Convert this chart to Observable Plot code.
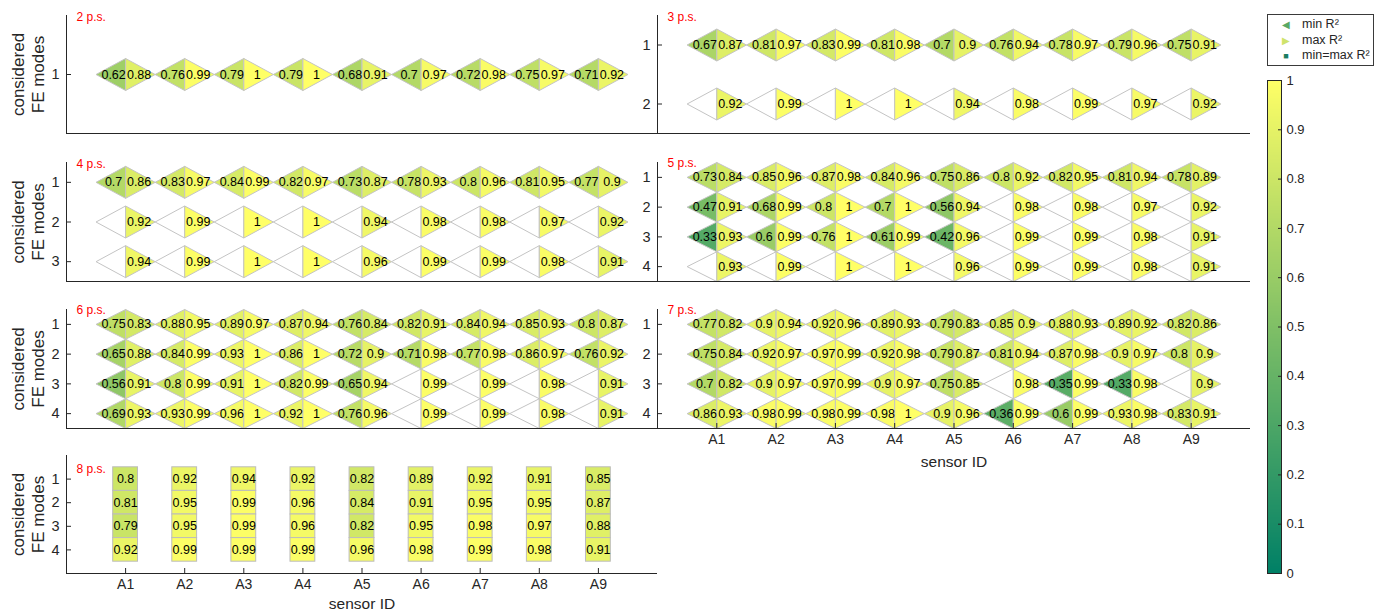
<!DOCTYPE html>
<html>
<head>
<meta charset="utf-8">
<script src="https://cdn.jsdelivr.net/npm/d3@7"></script>
<script src="https://cdn.jsdelivr.net/npm/@observablehq/plot@0.6"></script>
<style>
  body { margin: 0; background: #fff; font-family: "Liberation Sans", Arial, sans-serif; }
  #root { position: relative; width: 1388px; height: 614px; overflow: hidden; background: #fff; }
  #root svg { position: absolute; overflow: visible; }
  .legend { position: absolute; border: 1px solid #3a3a3a; background: #fff; font-size: 12.5px; color: #262626; }
  .legend .it { position: absolute; white-space: nowrap; }
  .legend .mk { position: absolute; text-align: center; }
</style>
</head>
<body>
<div id="root"></div>
<script>
// ---------------- data ----------------
const sensors = ["A1", "A2", "A3", "A4", "A5", "A6", "A7", "A8", "A9"];
const modeTicks = [1, 2, 3, 4];
const cbTicks = [0, 0.1, 0.2, 0.3, 0.4, 0.5, 0.6, 0.7, 0.8, 0.9, 1];
const N = null;

const ps2Min = [[0.62, 0.76, 0.79, 0.79, 0.68, 0.7, 0.72, 0.75, 0.71]];
const ps2Max = [[0.88, 0.99, 1, 1, 0.91, 0.97, 0.98, 0.97, 0.92]];

const ps3Min = [
  [0.67, 0.81, 0.83, 0.81, 0.7, 0.76, 0.78, 0.79, 0.75],
  [N, N, N, N, N, N, N, N, N]
];
const ps3Max = [
  [0.87, 0.97, 0.99, 0.98, 0.9, 0.94, 0.97, 0.96, 0.91],
  [0.92, 0.99, 1, 1, 0.94, 0.98, 0.99, 0.97, 0.92]
];

const ps4Min = [
  [0.7, 0.83, 0.84, 0.82, 0.73, 0.78, 0.8, 0.81, 0.77],
  [N, N, N, N, N, N, N, N, N],
  [N, N, N, N, N, N, N, N, N]
];
const ps4Max = [
  [0.86, 0.97, 0.99, 0.97, 0.87, 0.93, 0.96, 0.95, 0.9],
  [0.92, 0.99, 1, 1, 0.94, 0.98, 0.98, 0.97, 0.92],
  [0.94, 0.99, 1, 1, 0.96, 0.99, 0.99, 0.98, 0.91]
];

const ps5Min = [
  [0.73, 0.85, 0.87, 0.84, 0.75, 0.8, 0.82, 0.81, 0.78],
  [0.47, 0.68, 0.8, 0.7, 0.56, N, N, N, N],
  [0.33, 0.6, 0.76, 0.61, 0.42, N, N, N, N],
  [N, N, N, N, N, N, N, N, N]
];
const ps5Max = [
  [0.84, 0.96, 0.98, 0.96, 0.86, 0.92, 0.95, 0.94, 0.89],
  [0.91, 0.99, 1, 1, 0.94, 0.98, 0.98, 0.97, 0.92],
  [0.93, 0.99, 1, 0.99, 0.96, 0.99, 0.99, 0.98, 0.91],
  [0.93, 0.99, 1, 1, 0.96, 0.99, 0.99, 0.98, 0.91]
];

const ps6Min = [
  [0.75, 0.88, 0.89, 0.87, 0.76, 0.82, 0.84, 0.85, 0.8],
  [0.65, 0.84, 0.93, 0.86, 0.72, 0.71, 0.77, 0.86, 0.76],
  [0.56, 0.8, 0.91, 0.82, 0.65, N, N, N, N],
  [0.69, 0.93, 0.96, 0.92, 0.76, N, N, N, N]
];
const ps6Max = [
  [0.83, 0.95, 0.97, 0.94, 0.84, 0.91, 0.94, 0.93, 0.87],
  [0.88, 0.99, 1, 1, 0.9, 0.98, 0.98, 0.97, 0.92],
  [0.91, 0.99, 1, 0.99, 0.94, 0.99, 0.99, 0.98, 0.91],
  [0.93, 0.99, 1, 1, 0.96, 0.99, 0.99, 0.98, 0.91]
];

const ps7Min = [
  [0.77, 0.9, 0.92, 0.89, 0.79, 0.85, 0.88, 0.89, 0.82],
  [0.75, 0.92, 0.97, 0.92, 0.79, 0.81, 0.87, 0.9, 0.8],
  [0.7, 0.9, 0.97, 0.9, 0.75, N, 0.35, 0.33, N],
  [0.86, 0.98, 0.98, 0.98, 0.9, 0.36, 0.6, 0.93, 0.83]
];
const ps7Max = [
  [0.82, 0.94, 0.96, 0.93, 0.83, 0.9, 0.93, 0.92, 0.86],
  [0.84, 0.97, 0.99, 0.98, 0.87, 0.94, 0.98, 0.97, 0.9],
  [0.82, 0.97, 0.99, 0.97, 0.85, 0.98, 0.99, 0.98, 0.9],
  [0.93, 0.99, 0.99, 1, 0.96, 0.99, 0.99, 0.98, 0.91]
];

const ps8Val = [
  [0.8, 0.92, 0.94, 0.92, 0.82, 0.89, 0.92, 0.91, 0.85],
  [0.81, 0.95, 0.99, 0.96, 0.84, 0.91, 0.95, 0.95, 0.87],
  [0.79, 0.95, 0.99, 0.96, 0.82, 0.95, 0.98, 0.97, 0.88],
  [0.92, 0.99, 0.99, 0.99, 0.96, 0.98, 0.99, 0.98, 0.91]
];

const legendLabels = ["min R²", "max R²", "min=max R²"];

// ---------------- layout ----------------
const panels = [
  {label: "2 p.s.", min: ps2Min, max: ps2Max, col: 0, row: 0, ydom: [0, 2], labelDy: 2, ylab: true},
  {label: "3 p.s.", min: ps3Min, max: ps3Max, col: 1, row: 0, ydom: [0.5, 2.5], labelDy: 2},
  {label: "4 p.s.", min: ps4Min, max: ps4Max, col: 0, row: 1, ydom: [0.5, 3.5], labelDy: 1.5, ylab: true},
  {label: "5 p.s.", min: ps5Min, max: ps5Max, col: 1, row: 1, ydom: [0.5, 4.5], labelDy: 1},
  {label: "6 p.s.", min: ps6Min, max: ps6Max, col: 0, row: 2, ydom: [0.5, 4.5], labelDy: 1, ylab: true},
  {label: "7 p.s.", min: ps7Min, max: ps7Max, col: 1, row: 2, ydom: [0.5, 4.5], labelDy: 1, xaxis: true, xlabDy: 34},
  {label: "8 p.s.", single: ps8Val, col: 0, row: 3, ydom: [0, 5], labelDy: 13.5, ylab: true, xaxis: true, xlabDy: 31}
];
const colX = [[66, 657], [657, 1250]];
const rowY = [[15, 133], [162, 281], [309, 428], [455, 573]];
const INK = "#262626";
const EDGE = "#c4c4c4";
const FONT = "Liberation Sans, Arial, sans-serif";
const colorOpts = {type: "linear", domain: [0, 1], range: ["rgb(0,128,102)", "rgb(255,255,102)"], interpolate: "rgb"};

const root = document.getElementById("root");
const fmt = v => String(v);

function drawPanel(p) {
  const [xl, xr] = colX[p.col];
  const [yt, yb] = rowY[p.row];
  const mL = 70, mR = 12, mT = 20, mB = 50;
  const W = xr - xl, H = yb - yt;
  const pxX = W / 10, pxY = H / (p.ydom[1] - p.ydom[0]);
  const hw = 0.5 * pxX, hh = Math.min(16, 0.5 * pxY);
  const triL = {draw(c) { c.moveTo(0, -hh); c.lineTo(-hw, 0); c.lineTo(0, hh); c.closePath(); }};
  const triR = {draw(c) { c.moveTo(0, -hh); c.lineTo(hw, 0); c.lineTo(0, hh); c.closePath(); }};
  const src = p.single || p.max;
  const rows = modeTicks.slice(0, src.length);
  const cells = [];
  src.forEach((arr, m) => arr.forEach((v, i) => cells.push({
    x: i + 1, y: m + 1,
    min: p.min ? p.min[m][i] : null,
    max: p.max ? v : null,
    v: p.single ? v : null
  })));
  const marks = [];
  if (p.single) {
    marks.push(Plot.rect(cells, {x1: d => d.x - 0.21, x2: d => d.x + 0.21, y1: d => d.y - 0.5, y2: d => d.y + 0.5,
      fill: "v", stroke: "#bcbcbc", strokeWidth: 1}));
    marks.push(Plot.text(cells, {x: "x", y: "y", text: d => fmt(d.v), fontSize: 12.5, fill: "#000"}));
  } else {
    const hasMin = cells.filter(d => d.min != null);
    const noMin = cells.filter(d => d.min == null);
    marks.push(Plot.dot(noMin, {x: "x", y: "y", symbol: triL, fill: "white", stroke: EDGE, strokeWidth: 1}));
    marks.push(Plot.dot(hasMin, {x: "x", y: "y", symbol: triL, fill: "min", stroke: EDGE, strokeWidth: 1}));
    marks.push(Plot.dot(cells, {x: "x", y: "y", symbol: triR, fill: "max", stroke: EDGE, strokeWidth: 1}));
    marks.push(Plot.text(hasMin, {x: "x", y: "y", text: d => fmt(d.min), dx: -12, fontSize: 12.5, fill: "#000"}));
    marks.push(Plot.text(cells, {x: "x", y: "y", text: d => fmt(d.max), dx: 13.5, fontSize: 12.5, fill: "#000"}));
  }
  // axes lines
  marks.push(Plot.ruleX([0], {stroke: INK, strokeWidth: 1}));
  marks.push(Plot.ruleY([p.ydom[1]], {stroke: INK, strokeWidth: 1}));
  marks.push(Plot.axisY({ticks: rows, tickFormat: d => String(d), tickSize: -5, tickPadding: 12,
    fontSize: 14.5, color: INK, label: null}));
  if (p.xaxis) {
    marks.push(Plot.axisX({ticks: sensors.map((s, i) => i + 1), tickFormat: d => sensors[d - 1],
      tickSize: -5, tickPadding: 11, fontSize: 14, color: INK, label: null}));
    marks.push(Plot.text(["sensor ID"], {frameAnchor: "bottom", dy: p.xlabDy, text: d => d, fontSize: 15.5,
      fill: INK, lineAnchor: "middle"}));
  }
  if (p.ylab) {
    marks.push(Plot.text(["considered\nFE modes"], {frameAnchor: "left", dx: -39, rotate: -90, text: d => d,
      fontSize: 17, lineHeight: 1.2, fill: INK, lineAnchor: "middle", textAnchor: "middle"}));
  }
  marks.push(Plot.text([p.label], {frameAnchor: "top-left", dx: 10, dy: p.labelDy, text: d => d,
    fill: "#ff0000", fontSize: 12, textAnchor: "start", lineAnchor: "middle"}));

  const svg = Plot.plot({
    width: mL + W + mR, height: mT + H + mB,
    marginLeft: mL, marginRight: mR, marginTop: mT, marginBottom: mB,
    x: {domain: [0, 10], axis: null},
    y: {domain: p.ydom, reverse: true, axis: null},
    color: colorOpts,
    style: {background: "transparent", fontFamily: FONT, overflow: "visible"},
    marks
  });
  svg.style.left = (xl - mL) + "px";
  svg.style.top = (yt - mT) + "px";
  root.appendChild(svg);
}

panels.forEach(drawPanel);

// ---------------- colorbar ----------------
(function () {
  const bx = 1267, bw = 14, by0 = 80, by1 = 573;
  const mL = 5, mR = 45, mT = 10, mB = 10;
  const svg = Plot.plot({
    width: mL + bw + mR, height: mT + (by1 - by0) + mB,
    marginLeft: mL, marginRight: mR, marginTop: mT, marginBottom: mB,
    x: {domain: [0, 1], axis: null},
    y: {domain: [0, 1], axis: null},
    color: colorOpts,
    style: {background: "transparent", fontFamily: FONT, overflow: "visible"},
    marks: [
      Plot.raster({x1: 0, x2: 1, y1: 0, y2: 1, fill: (x, y) => y, width: 2, height: 300, imageRendering: "auto"}),
      Plot.frame({stroke: INK, strokeWidth: 1}),
      Plot.axisY({anchor: "right", ticks: cbTicks, tickFormat: d => d3.format("~g")(d), tickSize: -4,
        tickPadding: 9, fontSize: 13, color: INK, label: null})
    ]
  });
  svg.style.left = (bx - mL) + "px";
  svg.style.top = (by0 - mT) + "px";
  root.appendChild(svg);
})();

// ---------------- legend ----------------
(function () {
  const lg = document.createElement("div");
  lg.className = "legend";
  Object.assign(lg.style, {left: "1267px", top: "14px", width: "105px", height: "50px"});
  const marks = [
    {sym: "◀", color: "#5aa864", size: "10px"},
    {sym: "▶", color: "#cfe36c", size: "10px"},
    {sym: "■", color: "#1b7d62", size: "9px"}
  ];
  legendLabels.forEach((t, i) => {
    const y = 2 + i * 15.5;
    const mk = document.createElement("div");
    mk.className = "mk";
    mk.textContent = marks[i].sym;
    Object.assign(mk.style, {left: "10px", top: (y + 1) + "px", width: "16px", color: marks[i].color,
      fontSize: marks[i].size, lineHeight: "14px"});
    lg.appendChild(mk);
    const it = document.createElement("div");
    it.className = "it";
    it.textContent = t;
    Object.assign(it.style, {left: "34px", top: y + "px", lineHeight: "15px"});
    lg.appendChild(it);
  });
  root.appendChild(lg);
})();
</script>
</body>
</html>
